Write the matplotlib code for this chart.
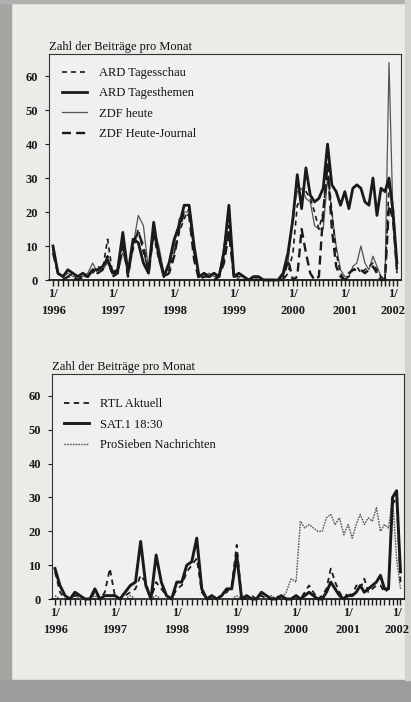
import numpy as np
import matplotlib
matplotlib.use("Agg")
import matplotlib.pyplot as plt
from matplotlib.patches import Rectangle

plt.rcParams['font.family'] = ['Liberation Serif', 'DejaVu Serif']

# ---------------- data (monthly, Jan 1996 .. Feb 2002) ----------------
months = np.arange(74)
year_ticks = [0, 12, 24, 36, 48, 60, 72]
year_labels = ["1/\n1996", "1/\n1997", "1/\n1998", "1/\n1999", "1/\n2000", "1/\n2001", "1/\n2002"]
title_text = "Zahl der Beiträge pro Monat"

ard_tagesschau = [9, 2, 1, 1, 2, 1, 1, 1, 2, 4, 3, 12,
                  2, 2, 10, 2, 9, 15, 8, 3, 13, 6, 2, 3,
                  8, 14, 18, 21, 8, 1, 2, 1, 1, 1, 6, 16,
                  1, 1, 0, 0, 1, 0, 0, 0, 0, 0, 0, 2,
                  8, 22, 24, 26, 24, 20, 15, 20, 34, 20, 8, 2,
                  0, 1, 3, 4, 2, 3, 4, 5, 3, 1, 0, 28, 22, 2]
ard_tagesthemen = [10, 2, 1, 3, 2, 1, 2, 1, 3, 3, 4, 6,
                   2, 3, 14, 2, 12, 11, 5, 2, 17, 7, 1, 5,
                   12, 16, 22, 22, 10, 1, 2, 1, 2, 1, 8, 22,
                   1, 2, 1, 0, 1, 1, 0, 0, 0, 0, 2, 8,
                   18, 31, 21, 33, 25, 23, 24, 27, 40, 28, 26, 22,
                   26, 21, 27, 28, 27, 23, 22, 30, 19, 27, 26, 30, 20, 5]
zdf_heute = [9, 2, 1, 2, 1, 1, 1, 2, 5, 2, 3, 5,
             3, 2, 8, 3, 10, 19, 16, 3, 15, 10, 2, 4,
             10, 18, 20, 20, 8, 1, 1, 2, 1, 1, 10, 20,
             2, 1, 1, 0, 1, 0, 0, 0, 0, 0, 1, 5,
             20, 26, 27, 24, 23, 16, 15, 15, 30, 20, 10, 3,
             1, 1, 4, 5, 10, 5, 3, 7, 4, 1, 0, 64, 18, 3]
zdf_heute_journal = [8, 2, 0, 1, 1, 0, 1, 1, 3, 2, 3, 7,
                     1, 2, 12, 1, 11, 14, 10, 2, 14, 8, 1, 2,
                     7, 15, 20, 19, 6, 0, 1, 1, 0, 1, 5, 14,
                     1, 0, 0, 0, 0, 0, 0, 0, 0, 0, 0, 6,
                     0, 1, 15, 8, 2, 0, 1, 20, 34, 15, 4, 1,
                     0, 2, 3, 3, 3, 2, 3, 4, 2, 0, 0, 22, 18, 3]

rtl_aktuell = [8, 2, 0, 0, 1, 1, 0, 0, 2, 0, 2, 9,
               1, 0, 1, 2, 3, 7, 5, 0, 5, 3, 1, 0,
               3, 4, 8, 10, 12, 2, 0, 0, 0, 1, 2, 4,
               16, 0, 0, 1, 0, 1, 0, 0, 1, 0, 0, 0,
               1, 0, 2, 4, 2, 0, 1, 3, 9, 5, 2, 0,
               2, 1, 4, 3, 6, 2, 3, 4, 4, 2, 3, 28, 30, 5]
sat1_1830 = [9, 4, 1, 0, 2, 1, 0, 0, 3, 0, 1, 1,
             1, 0, 2, 4, 5, 17, 4, 0, 13, 5, 1, 0,
             5, 5, 10, 11, 18, 3, 0, 1, 0, 1, 3, 3,
             13, 0, 1, 0, 0, 2, 1, 0, 0, 1, 0, 0,
             1, 0, 1, 2, 1, 0, 0, 2, 5, 3, 1, 0,
             1, 1, 2, 4, 2, 3, 4, 5, 7, 3, 3, 30, 32, 8]
prosieben = [1, 0, 0, 0, 1, 0, 0, 0, 1, 0, 0, 0,
             0, 0, 0, 1, 0, 0, 0, 0, 1, 0, 0, 0,
             0, 0, 0, 0, 0, 0, 0, 0, 0, 0, 0, 0,
             1, 0, 0, 0, 0, 0, 0, 1, 0, 0, 2, 6,
             5, 23, 21, 22, 21, 20, 20, 24, 25, 22, 24, 19,
             22, 18, 22, 25, 22, 24, 23, 27, 20, 22, 21, 30, 12, 3]

# ---------------- scanned-page x distortion (page curvature) ----------------
KN = np.array([0, 12, 24, 36, 48, 60, 72], float)
PX = np.array([0, 59.7, 121.5, 181.3, 240.5, 292.5, 340.8])


def fwd(m):
    m = np.asarray(m, float)
    out = np.interp(m, KN, PX)
    out = np.where(m < 0, m * 5.0, out)
    out = np.where(m > 72, PX[-1] + (m - 72) * 3.9, out)
    return out


def inv(p):
    p = np.asarray(p, float)
    out = np.interp(p, PX, KN)
    out = np.where(p < 0, p / 5.0, out)
    out = np.where(p > PX[-1], 72 + (p - PX[-1]) / 3.9, out)
    return out


W, H = 411, 702
fig = plt.figure(figsize=(W / 100, H / 100), dpi=100)
paper = '#ebebe8'
fig.patch.set_facecolor(paper)

# page edges of the scan
for rect in [Rectangle((0, 0), 11 / W, 1, color='#a4a4a2'),
             Rectangle((0, 0), 1, 22 / H, color='#9c9c9a'),
             Rectangle((0, 1 - 3 / H), 1, 3 / H, color='#b0b0ae'),
             Rectangle((405 / W, 22 / H), 6 / W, 1, color='#d2d2cf')]:
    rect.set_transform(fig.transFigure)
    rect.set_zorder(-10)
    fig.patches.append(rect)


def px_axes(left, top, right, bottom):
    return fig.add_axes([left / W, 1 - bottom / H, (right - left) / W, (bottom - top) / H])


def style_axes(ax, x0, x1):
    ax.set_facecolor('#f0f0ee')
    ax.set_xscale('function', functions=(fwd, inv))
    ax.set_xlim(x0, x1)
    ax.set_ylim(0, 66.5)
    ax.set_yticks([0, 10, 20, 30, 40, 50, 60])
    ax.set_xticks(year_ticks)
    ax.set_xticklabels(year_labels, linespacing=1.65, fontweight='bold')
    ax.set_xticks(months, minor=True)
    ax.tick_params(axis='x', which='both', direction='out', length=4.5, width=1.0,
                   labelsize=9, pad=1, colors='#1a1a1a')
    ax.tick_params(axis='y', direction='out', length=3, width=0.8, labelsize=9,
                   pad=5, colors='#1a1a1a')
    for t in ax.get_yticklabels():
        t.set_fontweight('bold')
    for s in ax.spines.values():
        s.set_linewidth(0.8)
        s.set_color('#333333')
    ax.spines['bottom'].set_linewidth(1.3)
    ax.spines['bottom'].set_color('#1a1a1a')
    ax.text(0, 1.004, title_text, transform=ax.transAxes, ha='left', va='bottom',
            fontsize=9, color='#111111')


# ---------------- top chart ----------------
ax1 = px_axes(49, 54, 401, 280)
style_axes(ax1, -0.8, 74.05)
ax1.plot(months, zdf_heute, color='#555555', lw=0.9, label='ZDF heute', clip_on=False, zorder=3)
ax1.plot(months, zdf_heute_journal, color='#1a1a1a', lw=1.7, dashes=(3.8, 2.2),
         label='ZDF Heute-Journal', clip_on=False, zorder=4)
ax1.plot(months, ard_tagesschau, color='#1a1a1a', lw=1.2, dashes=(3.0, 2.4),
         label='ARD Tagesschau', clip_on=False, zorder=5)
ax1.plot(months, ard_tagesthemen, color='#1a1a1a', lw=2.0, label='ARD Tagesthemen',
         clip_on=False, zorder=6)
h, l = ax1.get_legend_handles_labels()
order = [l.index('ARD Tagesschau'), l.index('ARD Tagesthemen'), l.index('ZDF heute'),
         l.index('ZDF Heute-Journal')]
ax1.legend([h[i] for i in order], [l[i] for i in order], loc='upper left',
           bbox_to_anchor=(0.038, 0.943), frameon=False, fontsize=9,
           handlelength=2.0, handletextpad=0.9, labelspacing=0.67,
           borderpad=0, borderaxespad=0, labelcolor='#111111')

# ---------------- bottom chart ----------------
ax2 = px_axes(52, 374, 404, 599)
style_axes(ax2, -0.6, 73.9)
ax2.plot(months, prosieben, color='#555555', lw=1.0, ls=(0, (1.2, 0.8)),
         label='ProSieben Nachrichten', clip_on=False, zorder=3)
ax2.plot(months, rtl_aktuell, color='#1a1a1a', lw=1.3, dashes=(3.0, 2.4),
         label='RTL Aktuell', clip_on=False, zorder=4)
ax2.plot(months, sat1_1830, color='#1a1a1a', lw=2.1, label='SAT.1 18:30',
         clip_on=False, zorder=5)
h, l = ax2.get_legend_handles_labels()
order = [l.index('RTL Aktuell'), l.index('SAT.1 18:30'), l.index('ProSieben Nachrichten')]
ax2.legend([h[i] for i in order], [l[i] for i in order], loc='upper left',
           bbox_to_anchor=(0.033, 0.892), frameon=False, fontsize=9,
           handlelength=2.0, handletextpad=0.9, labelspacing=0.67,
           borderpad=0, borderaxespad=0, labelcolor='#111111')

fig.savefig('out.png', dpi=100, facecolor=fig.get_facecolor())
